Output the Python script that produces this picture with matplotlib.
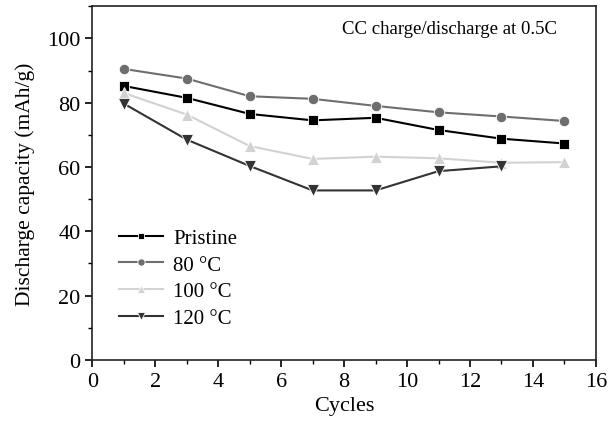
import numpy as np
import matplotlib
matplotlib.use("Agg")
import matplotlib.pyplot as plt
from matplotlib.ticker import MultipleLocator

plt.rcParams['font.family'] = ['Liberation Serif', 'DejaVu Serif']

cycles = [1, 3, 5, 7, 9, 11, 13, 15]
pristine = [85.2, 81.5, 76.5, 74.5, 75.3, 71.5, 68.8, 67.3]
t80 = [90.5, 87.5, 82.0, 81.2, 79.0, 77.0, 75.7, 74.3]
t100 = [83.0, 76.3, 66.5, 62.5, 63.2, 62.7, 61.3, 61.5]
t120 = [79.7, 68.5, 60.3, 52.7, 52.7, 58.7, 60.2]

fig = plt.figure(figsize=(6.08, 4.27), dpi=100)
ax = fig.add_axes([0.152, 0.155, 0.828, 0.828])

ax.plot(cycles, pristine, color='black', marker='s', ms=7, lw=1.5,
        mec='white', mew=0.6, label='Pristine')
ax.plot(cycles, t80, color='#6e6e6e', marker='o', ms=7.5, lw=1.5,
        mec='white', mew=0.6, label='80 \u00b0C')
ax.plot(cycles, t100, color='#d2d2d2', marker='^', ms=8, lw=1.5,
        mec='white', mew=0.6, label='100 \u00b0C')
ax.plot(cycles[:len(t120)], t120, color='#333333', marker='v', ms=8, lw=1.5,
        mec='white', mew=0.6, label='120 \u00b0C')

ax.set_xlim(0, 16)
ax.set_ylim(0, 110)
ax.xaxis.set_major_locator(MultipleLocator(2))
ax.xaxis.set_minor_locator(MultipleLocator(1))
ax.yaxis.set_minor_locator(MultipleLocator(10))
ax.set_yticks([0, 20, 40, 60, 80, 100])
ax.tick_params(which='major', direction='out', length=5, width=1.2, labelsize=16)
ax.tick_params(which='minor', direction='out', length=3, width=1.0)
for s in ax.spines.values():
    s.set_linewidth(1.2)
    s.set_color('#222222')

ax.set_xlabel('Cycles', fontsize=16, labelpad=4)
ax.set_ylabel('Discharge capacity (mAh/g)', fontsize=15.5, labelpad=9)

ax.text(7.93, 103, 'CC charge/discharge at 0.5C', fontsize=13.5, va='center')

leg = ax.legend(loc='lower left', bbox_to_anchor=(0.016, 0.037), frameon=False,
                fontsize=15, handlelength=2.1, handletextpad=0.5,
                labelspacing=0.34, markerscale=0.7)

fig.savefig('out.png', dpi=100)
